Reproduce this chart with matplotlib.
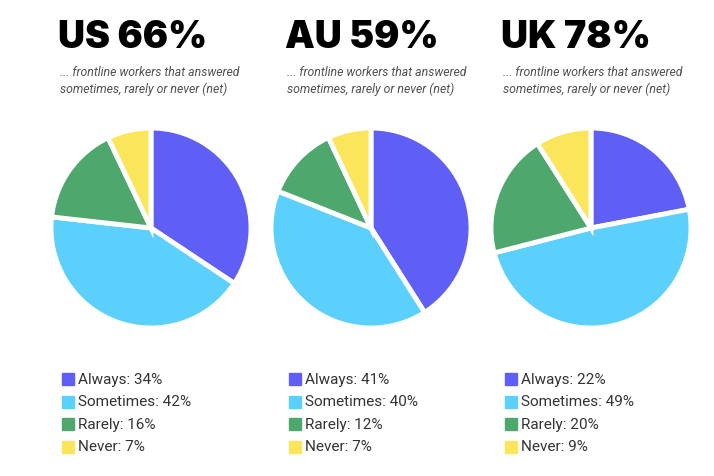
import matplotlib.pyplot as plt

W, H = 714, 477

countries = ["US", "AU", "UK"]
headline = ["66%", "59%", "78%"]
categories = ["Always", "Sometimes", "Rarely", "Never"]
us_vals = [34, 42, 16, 7]
au_vals = [41, 40, 12, 7]
uk_vals = [22, 49, 20, 9]
colors = ["#5f5ff6", "#5bd0fc", "#4ea86d", "#fbe55a"]
subtitle = "... frontline workers that answered\nsometimes, rarely or never (net)"

fig = plt.figure(figsize=(W / 100, H / 100), dpi=100)
fig.patch.set_facecolor("white")

# pixel centres of each column
pie_cx = [151, 371, 591]
pie_cy = 229
pie_d = 204
text_x = [60, 287, 503]

for i, vals in enumerate([us_vals, au_vals, uk_vals]):
    cx = pie_cx[i]
    ax = fig.add_axes([(cx - pie_d / 2) / W, 1 - (pie_cy + pie_d / 2) / H,
                       pie_d / W, pie_d / H])
    ax.pie(vals, colors=colors, startangle=90, counterclock=False,
           wedgeprops=dict(edgecolor="white", linewidth=3.5))
    ax.set_xlim(-1.02, 1.02)
    ax.set_ylim(-1.02, 1.02)
    ax.set_aspect("equal")
    ax.axis("off")

    tx = text_x[i] / W
    fig.text(tx - 2 / W, 1 - 38 / H, countries[i] + " " + headline[i], fontsize=27,
             fontweight="black", family=["Inter", "DejaVu Sans"],
             va="center", ha="left", color="black")
    fig.text(tx, 1 - 81 / H, subtitle, fontsize=8.8, style="italic",
             family=["Roboto", "DejaVu Sans"], color="#505050",
             va="center", ha="left", linespacing=1.3)

    for j, cat in enumerate(categories):
        y = 380 + j * 22.5
        fig.patches.append(plt.Rectangle(((text_x[i] + 2) / W, 1 - (y + 6) / H),
                                         12 / W, 12 / H, color=colors[j],
                                         transform=fig.transFigure))
        fig.text((text_x[i] + 18) / W, 1 - y / H, f"{cat}: {vals[j]}%",
                 fontsize=11, family=["Roboto", "DejaVu Sans"],
                 color="#333333", va="center", ha="left")

fig.savefig("out.png", dpi=100, facecolor="white")
